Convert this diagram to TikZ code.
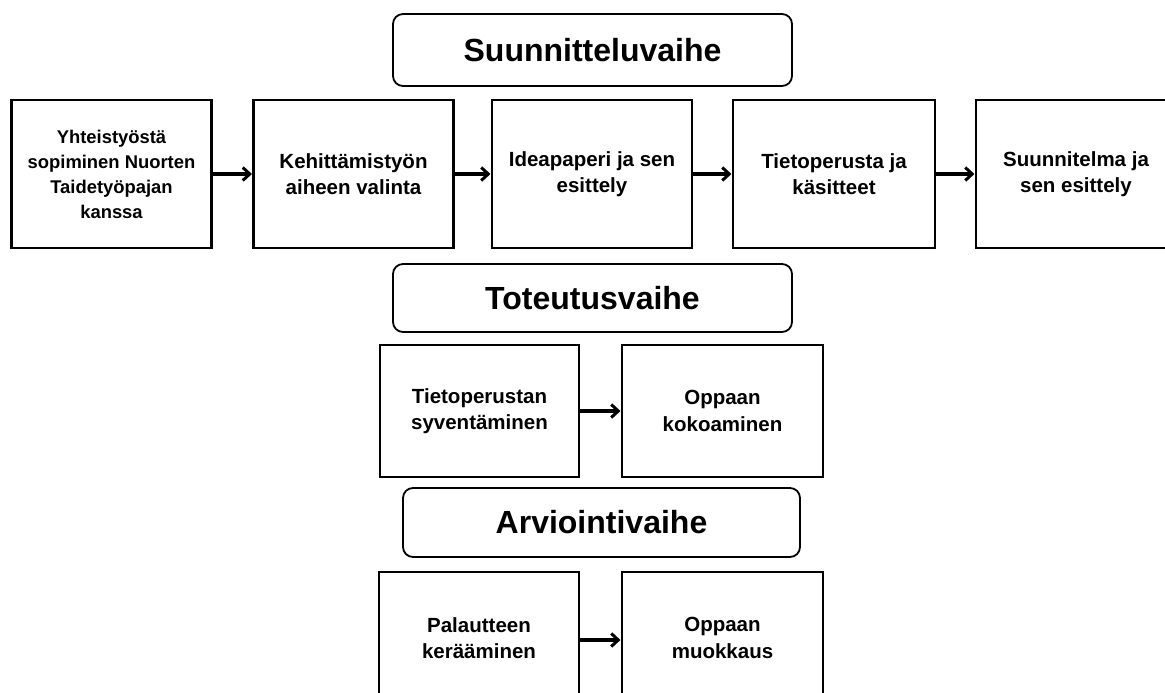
\documentclass[tikz,border=0pt]{standalone}
\usepackage{fontspec}
\setmainfont{Liberation Sans}
\usetikzlibrary{arrows.meta}
\begin{document}
\begin{tikzpicture}[x=1pt,y=-1pt,
  stepbox/.style={draw=black, line width=2.1pt, minimum width=200pt, minimum height=148pt, align=center, inner sep=0pt,
    font=\bfseries\fontsize{20.5}{26.5}\selectfont},
  smallbox/.style={stepbox, font=\bfseries\fontsize{18.4}{25}\selectfont},
  phase/.style={draw=black, line width=1.8pt, rounded corners=10pt, minimum width=399pt, minimum height=70pt, inner sep=0pt,
    font=\bfseries\fontsize{32}{38}\selectfont},
  arr/.style={line width=3.2pt, -{Straight Barb[length=7pt,width=13pt,line width=3pt]}, shorten >=0.5pt}
]
\useasboundingbox (0,0) rectangle (1165,693);
% Phase titles
\node[phase, minimum height=72pt] (p1) at (592.5,50) {Suunnitteluvaihe};
\node[phase, minimum height=68pt] (p2) at (592.5,298) {Toteutusvaihe};
\node[phase, minimum height=69pt, minimum width=397pt] (p3) at (601.5,522.5) {Arviointivaihe};
% Top row
\node[smallbox] (b1) at (111.5,174) {Yhteistyöstä\\sopiminen Nuorten\\Taidetyöpajan\\kanssa};
\node[stepbox] (b2) at (353.5,174) {Kehittämistyön\\aiheen valinta};
\node[stepbox] (b3) at (592,174) {Ideapaperi ja sen\\esittely};
\node[stepbox, minimum width=202pt] (b4) at (834,174) {Tietoperusta ja\\käsitteet};
\node[stepbox] (b5) at (1076,174) {Suunnitelma ja\\sen esittely};
% Middle row
\node[stepbox, minimum height=132pt, minimum width=199pt] (m1) at (479.5,411) {Tietoperustan\\syventäminen};
\node[stepbox, minimum height=132pt, minimum width=201pt] (m2) at (722.5,411) {Oppaan\\kokoaminen};
% Bottom row
\node[stepbox, minimum height=132pt] (l1) at (479,638) {Palautteen\\kerääminen};
\node[stepbox, minimum height=132pt, minimum width=201pt] (l2) at (722.5,638) {Oppaan\\muokkaus};
% Arrows
\draw[arr] (b1.east) -- (b2.west);
\draw[arr] (b2.east) -- (b3.west);
\draw[arr] (b3.east) -- (b4.west);
\draw[arr] (b4.east) -- (b5.west);
\draw[arr] (m1.east) -- (m2.west);
\draw[arr] ([yshift=-2pt]l1.east) -- ([yshift=-2pt]l2.west);
\end{tikzpicture}
\end{document}
